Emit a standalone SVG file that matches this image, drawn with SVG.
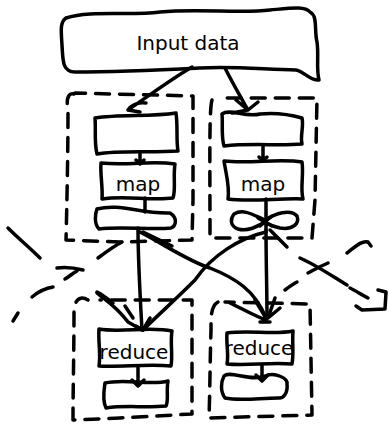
<svg xmlns="http://www.w3.org/2000/svg" width="389" height="427" viewBox="0 0 389 427">
<style>
.s{fill:none;stroke:#000;stroke-width:3.5;stroke-linecap:round;stroke-linejoin:round}
.d{fill:none;stroke:#000;stroke-width:3.5;stroke-linecap:round;stroke-linejoin:round;stroke-dasharray:14 10}
.t{font-family:"DejaVu Sans",sans-serif;font-size:20px;fill:#000;text-anchor:middle}
</style>
<rect width="389" height="427" fill="#fff"/>
<g id="shuffle">
<path class="s" d="M8,228 C18,238 30,248 40,258"/>
<path class="s" d="M57,268 C65,267 75,268 83,270 M65,279 C70,276 73,273 77,271"/>
<path class="s" d="M32,297 C38,292 46,288 53,287"/>
<path class="s" d="M13,321 L18,313"/>
<path class="s" d="M98,258 C106,252 114,246 122,242"/>
<path class="s" d="M97,292 C103,295 108,299 113,303"/>
<path class="s" d="M347,253 C355,247 362,240 368,242 L371,246"/>
<path class="s" d="M300,258 C316,265 332,276 347,285"/>
<path class="s" d="M308,273 C315,269 321,266 328,263"/>
<path class="s" d="M350,288 C356,291 362,295 368,298"/>
<path class="s" d="M378,290 L386,292 L385,309 L362,310 L356,306"/>
<path class="s" d="M285,290 C289,287 293,284 297,282"/>
</g>
<g id="groups">
<path class="d" d="M74,94 C68,92 66,100 68,110 C68,150 67,200 66,240 L120,242 L192,240 L193,200 L193,96 L75,93"/>
<path class="d" d="M212,100 C209,110 210,160 210,238 L312,238 L315,200 L317,98 L220,98"/>
<path class="d" d="M88,300 C80,295 74,300 74,312 C74,350 73,390 73,420 L120,418 L192,414 L192,360 L192,300 L100,300"/>
<path class="d" d="M218,302 C211,306 211,315 211,330 C210,360 210,390 209,418 L312,415 L311,360 L310,304 L225,302"/>
</g>
<g id="input">
<path class="s" d="M66,18 C90,10 130,16 160,12 C200,8 240,14 270,10 C292,8 305,6 310,12 C318,16 314,30 317,42 C319,56 316,68 319,80 C310,81 305,72 296,70 C260,69 230,66 200,68 C160,70 120,72 75,72 C62,72 63,60 62,45 C61,30 60,22 66,18 Z"/>
<text class="t" x="188" y="50">Input data</text>
</g>
<g id="split1">
<path class="s" d="M95,118 C120,114 150,117 176,113 C178,126 176,140 178,151 C150,153 120,150 97,154 C94,142 96,128 95,118 Z"/>
</g>
<g id="split2">
<path class="s" d="M222,114 C230,108 245,118 260,114 C280,112 295,116 302,118 C304,126 300,136 302,144 C280,146 250,143 224,146 C221,136 223,124 222,114 Z"/>
</g>
<g id="map1">
<path class="s" d="M101,163 C130,166 150,160 175,164 C173,176 176,190 173,198 C150,201 125,195 102,199 C103,187 100,175 101,163 Z"/>
<text class="t" x="138" y="191">map</text>
</g>
<g id="map2">
<path class="s" d="M224,161 C250,164 280,158 302,162 C304,175 300,188 303,199 C280,198 250,202 228,199 C230,187 226,174 224,161 Z"/>
<text class="t" x="263" y="191">map</text>
</g>
<g id="out1">
<path class="s" d="M97,209 C120,203 140,214 170,213 C178,218 176,226 171,228 C150,230 120,226 99,229 C94,224 95,214 97,209 Z"/>
</g>
<g id="out2">
<path class="s" d="M234,214 C244,208 255,216 265,220 C275,214 290,208 297,216 C300,224 292,230 280,228 C272,226 268,224 265,222 C258,226 248,232 238,229 C230,226 230,219 234,214 Z"/>
</g>
<g id="reduce1">
<path class="s" d="M99,329 C120,333 150,326 172,331 C170,342 173,355 171,366 C150,364 120,367 99,366 C101,354 98,342 99,329 Z"/>
<text class="t" x="134" y="359">reduce</text>
</g>
<g id="reduce2">
<path class="s" d="M227,333 C250,330 275,335 293,331 C292,343 294,354 292,364 C270,362 248,366 227,364 C229,354 226,344 227,333 Z"/>
<text class="t" x="259" y="355">reduce</text>
</g>
<g id="res1">
<path class="s" d="M105,383 C125,378 150,386 168,381 C166,392 169,400 166,406 C145,408 125,405 106,408 C102,400 104,390 105,383 Z"/>
</g>
<g id="res2">
<path class="s" d="M224,376 C230,370 250,382 265,376 C275,372 288,378 287,384 C288,392 284,399 278,398 C260,398 240,401 225,398 C220,391 221,382 224,376 Z"/>
</g>
<g id="connectors">
<path class="s" d="M192,67 C170,80 150,95 128,110 M128,110 C132,104 140,102 146,103 M128,110 L140,112"/>
<path class="s" d="M225,68 C232,82 240,96 248,110 M248,110 L236,100 M248,110 L258,102 M248,110 L232,113"/>
<path class="s" d="M140,153 L140,163 M136,160 L140,164 L144,160"/>
<path class="s" d="M145,198 L145,212"/>
<path class="s" d="M263,145 L263,160 M259,157 L263,161 L267,157"/>
<path class="s" d="M266,199 L266,230 M258,218 L272,226 M272,216 L260,226"/>
<path class="s" d="M138,228 C138,260 140,295 142,330"/>
<path class="s" d="M140,232 C165,245 190,262 210,268 C235,278 255,290 266,318"/>
<path class="s" d="M266,230 C266,260 267,290 267,318"/>
<path class="s" d="M266,232 C240,238 212,255 195,280 C175,300 158,315 143,330"/>
<path class="s" d="M270,230 L287,247"/>
<path class="s" d="M143,232 L172,246"/>
<path class="s" d="M97,293 C105,300 115,305 128,322 L142,330 M125,306 L133,318 M150,318 L143,330 L136,326"/>
<path class="s" d="M230,303 C245,310 255,316 266,320 M255,300 L266,318 M275,298 L268,318 M280,308 L268,318 M260,322 L270,322"/>
<path class="s" d="M138,367 L138,385 M132,380 L138,386 L144,380"/>
<path class="s" d="M262,365 L262,380 M256,375 L262,381 L268,375"/>
</g>
</svg>
